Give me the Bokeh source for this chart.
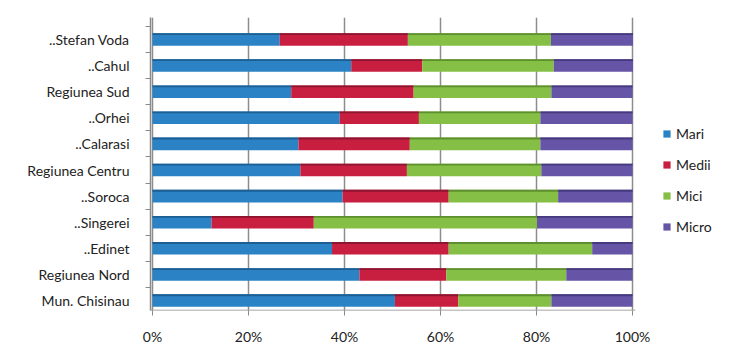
from bokeh.plotting import figure
from bokeh.models import ColumnDataSource, FixedTicker, Legend, LegendItem, Range1d
from bokeh.transform import dodge
from bokeh.embed import file_html
from bokeh.resources import INLINE

categories = ["Mun. Chisinau", "Regiunea Nord", "..Edinet", "..Singerei", "..Soroca",
              "Regiunea Centru", "..Calarasi", "..Orhei", "Regiunea Sud", "..Cahul", "..Stefan Voda"]
mari  = [50.5, 43.1, 37.4, 12.3, 39.6, 30.8, 30.4, 39.0, 28.9, 41.4, 26.5]
medii = [13.2, 18.1, 24.3, 21.3, 22.1, 22.2, 23.2, 16.5, 25.5, 14.8, 26.7]
mici  = [19.4, 25.0, 29.9, 46.5, 22.8, 28.0, 27.2, 25.3, 28.7, 27.4, 29.8]
micro = [16.9, 13.8,  8.4, 19.9, 15.5, 19.0, 19.2, 19.2, 16.9, 16.5, 17.1]
series = ["Mari", "Medii", "Mici", "Micro"]
colors = ["#2b83c6", "#c81f40", "#86bf46", "#6655a6"]
tops = ["#1d5e93", "#8e1530", "#5e8f2f", "#463a7e"]
x_ticks = [0, 20, 40, 60, 80, 100]
x_labels = ["0%", "20%", "40%", "60%", "80%", "100%"]

rows = list(range(len(categories)))
data = {"y": rows, "Mari": mari, "Medii": medii, "Mici": mici, "Micro": micro}
src = ColumnDataSource(data)

FONT = "Lato"
AXIS = "#8a8a8a"

x0, x1 = -0.42, 120.83
y0, y1 = -0.38, 10.84

p = figure(width=732, height=350, output_backend="svg", toolbar_location=None,
           x_range=Range1d(x0, x1), y_range=Range1d(y0, y1),
           min_border_left=150, min_border_right=0, min_border_top=17, min_border_bottom=40)
p.outline_line_color = None
p.background_fill_color = "white"

renderers = p.hbar_stack(series, y="y", height=0.48, color=colors, source=src, line_color=None)
p.hbar_stack(series, y=dodge("y", 0.205, range=p.y_range), height=0.07, color=tops,
             source=src, line_color=None)

# bottom axis baseline only under the plotting area
p.segment(x0=[x0], x1=[x_ticks[-1] + 0.6], y0=[y0], y1=[y0], line_color=AXIS, line_width=1.5)

# axes
p.xaxis.ticker = FixedTicker(ticks=x_ticks)
p.xaxis.major_label_overrides = {t: l for t, l in zip(x_ticks, x_labels)}
p.xaxis.major_label_text_font = FONT
p.xaxis.major_label_text_font_size = "14px"
p.xaxis.major_label_text_color = "#222222"
p.xaxis.axis_line_color = None
p.xaxis.major_tick_line_color = AXIS
p.xaxis.major_tick_out = 5
p.xaxis.major_tick_in = 0
p.xaxis.minor_tick_line_color = None
p.xaxis.major_label_standoff = 12

p.yaxis.ticker = FixedTicker(ticks=rows, minor_ticks=[r - 0.5 for r in rows] + [rows[-1] + 0.5])
p.yaxis.major_label_overrides = {r: c for r, c in zip(rows, categories)}
p.yaxis.major_label_text_font = FONT
p.yaxis.major_label_text_font_size = "14px"
p.yaxis.major_label_text_color = "#222222"
p.yaxis.axis_line_color = AXIS
p.yaxis.axis_line_width = 1.5
p.yaxis.major_tick_line_color = None
p.yaxis.minor_tick_line_color = AXIS
p.yaxis.minor_tick_out = 5
p.yaxis.minor_tick_in = 0
p.yaxis.major_label_standoff = 15

p.xgrid.ticker = FixedTicker(ticks=x_ticks)
p.xgrid.grid_line_color = "#8c8c8c"
p.xgrid.grid_line_width = 1.5
p.ygrid.grid_line_color = None

legend = Legend(items=[LegendItem(label=s, renderers=[r]) for s, r in zip(series, renderers)],
                location=(512, 74), border_line_color=None, background_fill_alpha=0,
                glyph_width=9, glyph_height=9, label_height=20, spacing=11, padding=0,
                margin=0,
                label_text_font=FONT, label_text_font_size="14px", label_text_color="#222222",
                label_standoff=5)
p.add_layout(legend, "center")

open("out.html", "w").write(file_html(p, INLINE))
